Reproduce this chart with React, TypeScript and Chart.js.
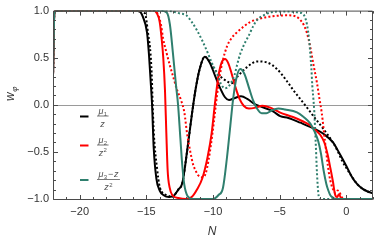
import React, { useEffect, useRef } from "react";
import { Chart, registerables } from "chart.js";

Chart.register(...registerables);

// ---- axes ----
const X_MIN = -22;
const X_MAX = 2;
const Y_MIN = -1;
const Y_MAX = 1;
const X_TICKS = [-20, -15, -10, -5, 0];
const X_TICK_LABELS = ["−20", "−15", "−10", "−5", "0"];
const Y_TICKS = [-1, -0.5, 0, 0.5, 1];
const Y_TICK_LABELS = ["−1.0", "−0.5", "0.0", "0.5", "1.0"];

// ---- series: black (mu1/z) ----
const BS_N = [-22, -21.9, -21.8, -16, -15.5, -15.25, -14.95, -14.8, -14.68, -14.57, -14.45, -14.25, -14.0, -13.7, -13.3, -12.9, -12.6, -12.3, -11.95, -11.6, -11.3, -11.0, -10.62, -10.25, -9.85, -9.47, -9.1, -8.8, -8.4, -7.9, -7.4, -6.9, -6.4, -5.5, -4.96, -4.35, -3.45, -2.47, -1.7, -1.0, -0.5, 0, 0.4, 0.8, 1.2, 1.6, 2];
const BS_W = [0.3, 0.97, 1, 1, 0.99, 0.93, 0.77, 0.53, 0.26, 0.0, -0.45, -0.78, -0.91, -0.96, -0.98, -0.96, -0.9, -0.83, -0.5, -0.12, 0.17, 0.38, 0.51, 0.45, 0.31, 0.18, 0.08, 0.05, 0.07, 0.09, 0.06, 0.01, -0.02, -0.07, -0.12, -0.14, -0.19, -0.25, -0.31, -0.4, -0.52, -0.65, -0.76, -0.84, -0.89, -0.92, -0.94];
const BD_N = [-22, -21.9, -21.8, -15.6, -15.1, -14.88, -14.68, -14.58, -14.53, -14.43, -14.2, -13.98, -13.45, -13.0, -12.9, -12.6, -12.3, -11.95, -11.6, -11.3, -11.0, -10.62, -10.3, -10.0, -9.5, -8.96, -8.6, -8.1, -7.45, -6.7, -5.95, -5.2, -4.45, -4.0, -3.45, -3.0, -2.47, -1.7, -1.05, -0.66, -0.3, 0, 0.4, 0.8, 1.2, 1.6, 2];
const BD_W = [0.3, 0.97, 1, 1, 0.97, 0.77, 0.53, 0.26, 0.02, -0.32, -0.67, -0.88, -0.96, -0.98, -0.96, -0.9, -0.83, -0.5, -0.12, 0.17, 0.38, 0.51, 0.47, 0.4, 0.31, 0.25, 0.23, 0.31, 0.4, 0.46, 0.45, 0.38, 0.25, 0.16, 0.06, -0.02, -0.12, -0.26, -0.39, -0.49, -0.6, -0.67, -0.76, -0.84, -0.89, -0.92, -0.94];

// ---- series: red (mu2/z^2) ----
const RS_N = [-22, -21.9, -21.8, -14.5, -14.2, -14.0, -13.85, -13.73, -13.6, -13.5, -13.4, -13.25, -13.05, -12.6, -12.0, -11.6, -11.2, -10.8, -10.4, -10.1, -9.85, -9.6, -9.35, -9.1, -8.85, -8.6, -8.3, -8.0, -7.7, -7.3, -6.8, -6.3, -5.7, -5.0, -4.0, -3.2, -2.7, -2.3, -1.95, -1.65, -1.4, -1.2, -1.0, -0.85, -0.7, -0.55, -0.4, -0.2, 2];
const RS_W = [0.3, 0.97, 1, 1, 0.97, 0.88, 0.7, 0.5, 0.15, -0.3, -0.7, -0.88, -0.96, -0.99, -1, -0.98, -0.9, -0.78, -0.55, -0.3, 0.02, 0.3, 0.45, 0.485, 0.44, 0.33, 0.18, 0.06, -0.01, -0.04, -0.03, -0.01, -0.03, -0.08, -0.13, -0.18, -0.22, -0.27, -0.32, -0.4, -0.53, -0.67, -0.82, -0.95, -0.98, -0.95, -0.99, -1, -1];
const RD_N = [-22, -21.9, -21.8, -14.6, -14.3, -14.1, -13.9, -13.75, -13.5, -13.2, -12.95, -12.7, -12.4, -12.15, -11.95, -11.7, -11.5, -11.3, -11.1, -10.8, -10.55, -10.35, -10.15, -9.95, -9.7, -9.5, -9.3, -8.95, -8.6, -8.2, -7.7, -7.2, -6.6, -6.0, -5.2, -4.45, -3.8, -3.45, -3.2, -2.95, -2.7, -2.47, -2.2, -2.0, -1.85, -1.6, -1.3, -1.1, -0.95, -0.8, -0.65, -0.5, -0.35, -0.15, 2];
const RD_W = [0.3, 0.97, 1, 1, 0.99, 0.95, 0.85, 0.71, 0.56, 0.4, 0.28, 0.16, 0.05, -0.08, -0.3, -0.5, -0.63, -0.7, -0.75, -0.77, -0.73, -0.6, -0.42, -0.2, 0.1, 0.3, 0.45, 0.62, 0.71, 0.77, 0.83, 0.88, 0.91, 0.93, 0.945, 0.95, 0.94, 0.9, 0.85, 0.76, 0.61, 0.43, 0.23, 0.05, -0.08, -0.39, -0.73, -0.86, -0.91, -0.94, -0.91, -0.93, -0.98, -1, -1];

// ---- series: teal ((mu3 - z)/z^2) ----
const TS_N = [-22, -21.9, -21.8, -13.9, -13.47, -13.23, -13.0, -12.77, -12.62, -12.45, -12.3, -12.15, -11.9, -11.5, -10.0, -9.6, -9.25, -8.96, -8.7, -8.5, -8.25, -7.96, -7.65, -7.3, -7.0, -6.7, -6.35, -6.0, -5.6, -5.1, -4.6, -3.7, -3.2, -2.7, -2.4, -2.1, -1.9, -1.7, -1.5, -1.35, -1.2, -1.05, -0.8, 2];
const TS_W = [0.3, 0.97, 1, 1, 0.98, 0.85, 0.54, 0.2, 0.0, -0.35, -0.65, -0.85, -0.97, -1, -1, -0.96, -0.88, -0.57, -0.22, 0.05, 0.28, 0.38, 0.33, 0.18, 0.05, -0.04, -0.09, -0.09, -0.06, -0.04, -0.05, -0.08, -0.13, -0.2, -0.28, -0.39, -0.52, -0.7, -0.84, -0.91, -0.96, -0.98, -1, -1];
const TD_N = [-22, -21.9, -21.8, -14.0, -13.0, -12.5, -12.0, -11.6, -11.2, -10.8, -10.45, -10.1, -9.7, -9.4, -9.1, -8.8, -8.4, -8.2, -7.96, -7.6, -7.3, -7.0, -6.7, -6.2, -5.7, -5.0, -4.3, -3.6, -3.3, -3.1, -2.95, -2.8, -2.7, -2.62, -2.55, -2.47, -2.4, -2.3, -2.2, -2.1, -2.0, 2];
const TD_W = [0.3, 0.97, 1, 1, 0.99, 0.97, 0.95, 0.88, 0.79, 0.68, 0.57, 0.45, 0.33, 0.22, 0.175, 0.2, 0.31, 0.42, 0.54, 0.66, 0.74, 0.83, 0.9, 0.95, 0.98, 0.99, 0.99, 0.98, 0.97, 0.93, 0.85, 0.7, 0.54, 0.38, 0.2, 0.06, -0.08, -0.39, -0.73, -0.94, -1, -1];

// ---- legend ----
const LEGEND_NUM_BASE = ["μ", "μ", "μ"];
const LEGEND_NUM_SUB = ["1", "2", "3"];
const LEGEND_NUM_REST = ["", "", "z"];
const LEGEND_DEN_SUP = ["", "2", "2"];

const BLACK = "#000000";
const RED = "#ff0000";
const TEAL = "#2f7f6e";
const LEGEND_COLORS = [BLACK, RED, TEAL];

const FONT = "'Liberation Sans', Arial, 'DejaVu Sans', sans-serif";

const pts = (n: number[], w: number[]) => n.map((x, i) => ({ x, y: w[i] }));

type Part = { t: string; size: number; italic?: boolean; dy?: number; gap?: number };

function measureParts(ctx: CanvasRenderingContext2D, parts: Part[]) {
  let w = 0;
  for (const p of parts) {
    ctx.font = `${p.italic ? "italic " : ""}${p.size}px ${FONT}`;
    w += ctx.measureText(p.t).width + (p.gap || 0);
  }
  return w;
}

function drawParts(ctx: CanvasRenderingContext2D, parts: Part[], x: number, y: number) {
  let cx = x;
  for (const p of parts) {
    ctx.font = `${p.italic ? "italic " : ""}${p.size}px ${FONT}`;
    ctx.fillText(p.t, cx, y + (p.dy || 0));
    cx += ctx.measureText(p.t).width + (p.gap || 0);
  }
}

const decorPlugin = {
  id: "decor",
  beforeDatasetsDraw(chart: any) {
    const { ctx, chartArea, scales } = chart;
    const y0 = Math.round(scales.y.getPixelForValue(0)) + 0.5;
    ctx.save();
    ctx.strokeStyle = "#9a9a9a";
    ctx.lineWidth = 1;
    ctx.beginPath();
    ctx.moveTo(chartArea.left, y0);
    ctx.lineTo(chartArea.right, y0);
    ctx.stroke();
    ctx.restore();
  },
  afterDraw(chart: any) {
    const { ctx, chartArea, scales } = chart;
    const { left, right, top, bottom } = chartArea;
    const xs = scales.x;
    const ys = scales.y;
    ctx.save();
    // frame
    ctx.strokeStyle = "#4a4a4a";
    ctx.lineWidth = 1;
    ctx.beginPath();
    ctx.moveTo(left + 0.5, top + 0.5);
    ctx.lineTo(right - 0.5, top + 0.5);
    ctx.lineTo(right - 0.5, bottom + 0.5);
    ctx.lineTo(left + 0.5, bottom + 0.5);
    ctx.closePath();
    ctx.stroke();
    // ticks (inward)
    ctx.beginPath();
    for (let v = Math.ceil(X_MIN); v <= X_MAX; v += 1) {
      const major = X_TICKS.includes(v);
      const len = major ? 4.5 : 2.5;
      const px = Math.round(xs.getPixelForValue(v)) + 0.5;
      ctx.moveTo(px, bottom + 0.5);
      ctx.lineTo(px, bottom + 0.5 - len);
      ctx.moveTo(px, top + 0.5);
      ctx.lineTo(px, top + 0.5 + len);
    }
    for (let k = -10; k <= 10; k++) {
      const v = k / 10;
      const major = k % 5 === 0;
      const len = major ? 4.5 : 2.5;
      const py = Math.round(ys.getPixelForValue(v)) + 0.5;
      ctx.moveTo(left + 0.5, py);
      ctx.lineTo(left + 0.5 + len, py);
      ctx.moveTo(right - 0.5, py);
      ctx.lineTo(right - 0.5 - len, py);
    }
    ctx.stroke();

    // axis titles
    ctx.fillStyle = "#333";
    ctx.textBaseline = "alphabetic";
    ctx.textAlign = "left";
    ctx.font = `italic 12px ${FONT}`;
    const nW = ctx.measureText("N").width;
    ctx.fillText("N", (left + right) / 2 - nW / 2 - 1, 235);

    ctx.save();
    ctx.translate(14, 101);
    ctx.rotate(-Math.PI / 2);
    drawParts(ctx, [
      { t: "w", size: 12, italic: true, gap: 0.5 },
      { t: "φ", size: 8, italic: true, dy: 3 },
    ], 0, 0);
    ctx.restore();

    // legend
    const rowY = [116.5, 145.5, 180];
    for (let i = 0; i < 3; i++) {
      const cy = rowY[i];
      ctx.strokeStyle = LEGEND_COLORS[i];
      ctx.lineWidth = 2;
      ctx.beginPath();
      ctx.moveTo(80, cy);
      ctx.lineTo(88.5, cy);
      ctx.stroke();

      const num: Part[] = [
        { t: LEGEND_NUM_BASE[i], size: 9, italic: true, gap: 0.3 },
        { t: LEGEND_NUM_SUB[i], size: 6, dy: 2 },
      ];
      if (LEGEND_NUM_REST[i]) {
        num[1].gap = 1;
        num.push({ t: "−", size: 9, gap: 0.6 });
        num.push({ t: LEGEND_NUM_REST[i], size: 9, italic: true });
      }
      const den: Part[] = [{ t: "z", size: 9, italic: true, gap: 0.4 }];
      if (LEGEND_DEN_SUP[i]) den.push({ t: LEGEND_DEN_SUP[i], size: 6, dy: -3.5 });
      const nw = measureParts(ctx, num);
      const dw = measureParts(ctx, den);
      const bw = Math.max(nw, dw) + 3;
      const bx = 97;
      ctx.fillStyle = "#555";
      ctx.textBaseline = "alphabetic";
      drawParts(ctx, num, bx + (bw - nw) / 2, cy - 3);
      drawParts(ctx, den, bx + (bw - dw) / 2, cy + 10);
      ctx.strokeStyle = "#555";
      ctx.lineWidth = 0.8;
      ctx.beginPath();
      ctx.moveTo(bx, cy - 0.5);
      ctx.lineTo(bx + bw, cy - 0.5);
      ctx.stroke();
    }
    ctx.restore();
  },
};

export default function App() {
  const ref = useRef<HTMLCanvasElement | null>(null);
  useEffect(() => {
    document.body.style.margin = "0";
    const canvas = ref.current;
    if (!canvas) return;
    const line = (n: number[], w: number[], color: string, dotted: boolean) => ({
      data: pts(n, w),
      borderColor: color,
      backgroundColor: color,
      borderWidth: 2,
      borderDash: dotted ? [2, 2.2] : [],
      pointRadius: 0,
      fill: false,
      cubicInterpolationMode: "monotone" as const,
    });
    const chart = new Chart(canvas, {
      type: "line",
      data: {
        datasets: [
          line(TS_N, TS_W, TEAL, false),
          line(TD_N, TD_W, TEAL, true),
          line(RS_N, RS_W, RED, false),
          line(RD_N, RD_W, RED, true),
          line(BS_N, BS_W, BLACK, false),
          line(BD_N, BD_W, BLACK, true),
        ],
      },
      options: {
        animation: false,
        responsive: false,
        devicePixelRatio: 1,
        layout: { padding: { left: 0, right: 1, top: 5, bottom: 0 } },
        plugins: { legend: { display: false }, tooltip: { enabled: false } },
        scales: {
          x: {
            type: "linear",
            min: X_MIN,
            max: X_MAX,
            grid: { display: false, drawTicks: false },
            border: { display: false },
            afterBuildTicks: (s: any) => {
              s.ticks = X_TICKS.map((v) => ({ value: v }));
            },
            afterFit: (s: any) => {
              s.height = 41;
            },
            ticks: {
              autoSkip: false,
              maxRotation: 0,
              padding: 6,
              color: "#333",
              font: { family: FONT, size: 11 },
              callback: (v: any) => X_TICK_LABELS[X_TICKS.indexOf(Number(v))] ?? "",
            },
          },
          y: {
            type: "linear",
            min: Y_MIN,
            max: Y_MAX,
            grid: { display: false, drawTicks: false },
            border: { display: false },
            afterBuildTicks: (s: any) => {
              s.ticks = Y_TICKS.map((v) => ({ value: v }));
            },
            afterFit: (s: any) => {
              s.width = 53;
            },
            ticks: {
              autoSkip: false,
              padding: 4,
              color: "#333",
              font: { family: FONT, size: 11 },
              callback: (v: any) => Y_TICK_LABELS[Y_TICKS.indexOf(Number(v))] ?? "",
            },
          },
        },
      },
      plugins: [decorPlugin],
    });
    return () => chart.destroy();
  }, []);
  return (
    <div style={{ position: "absolute", left: 0, top: 0, width: 374, height: 240 }}>
      <canvas ref={ref} width={374} height={240} />
    </div>
  );
}
